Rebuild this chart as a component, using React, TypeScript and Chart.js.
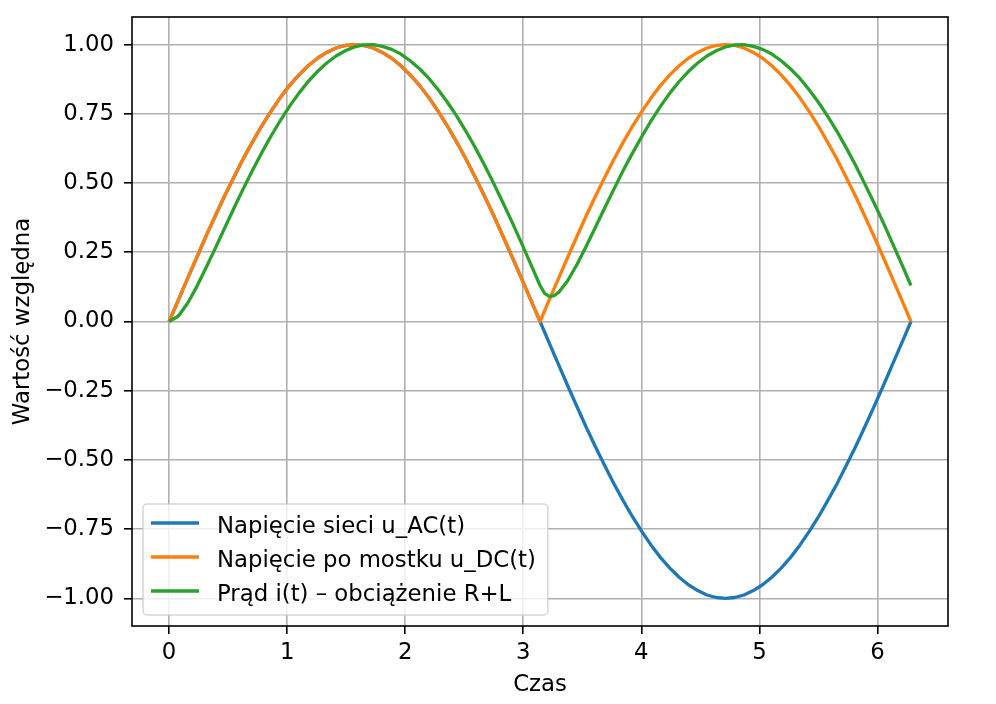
import { useEffect, useRef } from "react"
import { Chart, registerables, type ChartConfiguration, type Plugin } from "chart.js"

Chart.register(...registerables)

// time axis (s)
const czas = [
  0, 0.079, 0.157, 0.236, 0.314, 0.393, 0.471, 0.55, 0.628, 0.707, 0.785, 0.864, 0.942, 1.021, 1.1, 1.178, 1.257,
  1.335, 1.414, 1.492, 1.571, 1.649, 1.728, 1.806, 1.885, 1.963, 2.042, 2.121, 2.199, 2.278, 2.356, 2.435, 2.513,
  2.592, 2.67, 2.749, 2.827, 2.906, 2.985, 3.063, 3.142, 3.18, 3.22, 3.26, 3.299, 3.377, 3.456, 3.534, 3.613, 3.691,
  3.77, 3.848, 3.927, 4.006, 4.084, 4.163, 4.241, 4.32, 4.398, 4.477, 4.555, 4.634, 4.712, 4.791, 4.869, 4.948,
  5.027, 5.105, 5.184, 5.262, 5.341, 5.419, 5.498, 5.576, 5.655, 5.733, 5.812, 5.89, 5.969, 6.048, 6.126, 6.205,
  6.283,
]
const napiecieAC = [
  0, 0.078, 0.156, 0.233, 0.309, 0.383, 0.454, 0.522, 0.588, 0.649, 0.707, 0.76, 0.809, 0.853, 0.891, 0.924, 0.951,
  0.972, 0.988, 0.997, 1, 0.997, 0.988, 0.972, 0.951, 0.924, 0.891, 0.853, 0.809, 0.76, 0.707, 0.649, 0.588, 0.522,
  0.454, 0.383, 0.309, 0.233, 0.156, 0.078, 0, -0.038, -0.078, -0.118, -0.156, -0.233, -0.309, -0.383, -0.454,
  -0.522, -0.588, -0.649, -0.707, -0.76, -0.809, -0.853, -0.891, -0.924, -0.951, -0.972, -0.988, -0.997, -1, -0.997,
  -0.988, -0.972, -0.951, -0.924, -0.891, -0.853, -0.809, -0.76, -0.707, -0.649, -0.588, -0.522, -0.454, -0.383,
  -0.309, -0.233, -0.156, -0.078, 0,
]
const napiecieDC = [
  0, 0.078, 0.156, 0.233, 0.309, 0.383, 0.454, 0.522, 0.588, 0.649, 0.707, 0.76, 0.809, 0.853, 0.891, 0.924, 0.951,
  0.972, 0.988, 0.997, 1, 0.997, 0.988, 0.972, 0.951, 0.924, 0.891, 0.853, 0.809, 0.76, 0.707, 0.649, 0.588, 0.522,
  0.454, 0.383, 0.309, 0.233, 0.156, 0.078, 0, 0.038, 0.078, 0.118, 0.156, 0.233, 0.309, 0.383, 0.454, 0.522, 0.588,
  0.649, 0.707, 0.76, 0.809, 0.853, 0.891, 0.924, 0.951, 0.972, 0.988, 0.997, 1, 0.997, 0.988, 0.972, 0.951, 0.924,
  0.891, 0.853, 0.809, 0.76, 0.707, 0.649, 0.588, 0.522, 0.454, 0.383, 0.309, 0.233, 0.156, 0.078, 0,
]
const prad = [
  0, 0.02, 0.066, 0.127, 0.195, 0.266, 0.338, 0.41, 0.479, 0.546, 0.61, 0.67, 0.726, 0.778, 0.825, 0.867, 0.903,
  0.934, 0.959, 0.978, 0.992, 0.999, 1, 0.994, 0.983, 0.966, 0.942, 0.913, 0.879, 0.838, 0.793, 0.743, 0.688, 0.629,
  0.566, 0.499, 0.43, 0.358, 0.283, 0.207, 0.13, 0.102, 0.091, 0.093, 0.105, 0.148, 0.207, 0.273, 0.342, 0.412,
  0.48, 0.547, 0.61, 0.67, 0.726, 0.778, 0.825, 0.867, 0.903, 0.934, 0.959, 0.978, 0.992, 0.999, 1, 0.994, 0.983,
  0.966, 0.942, 0.913, 0.879, 0.838, 0.793, 0.743, 0.688, 0.629, 0.566, 0.499, 0.43, 0.358, 0.283, 0.207, 0.13,
]

const seriesLabels = ["Napięcie sieci u_AC(t)", "Napięcie po mostku u_DC(t)", "Prąd i(t) – obciążenie R+L"]
const seriesColors = ["#1f77b4", "#ff7f0e", "#2ca02c"]
const xTicks = [0, 1, 2, 3, 4, 5, 6]
const yTicks = [-1, -0.75, -0.5, -0.25, 0, 0.25, 0.5, 0.75, 1]

const FONT = { family: "'DejaVu Sans', sans-serif", size: 22.8 }

const toPoints = (ys: number[]) => ys.map((y, i) => ({ x: czas[i], y }))

// black frame on all four sides, above the lines
const framePlugin: Plugin = {
  id: "frame",
  afterDatasetsDraw(chart) {
    const { ctx, chartArea: a } = chart
    ctx.save()
    ctx.strokeStyle = "#000"
    ctx.lineWidth = 1.6
    ctx.strokeRect(a.left, a.top, a.right - a.left, a.bottom - a.top)
    ctx.restore()
  },
}

// matplotlib-like legend in the lower left corner of the plot
const innerLegend: Plugin = {
  id: "innerLegend",
  afterDraw(chart) {
    const { ctx, chartArea: a } = chart
    const sets = chart.data.datasets
    ctx.save()
    ctx.font = `${FONT.size}px ${FONT.family}`
    const textW = Math.max(...sets.map((d) => ctx.measureText(String(d.label)).width))
    const boxW = textW + 74 + 12
    const boxH = 111
    const boxX = a.left + 11
    const boxY = a.bottom - 11 - boxH
    ctx.beginPath()
    ctx.roundRect(boxX, boxY, boxW, boxH, 4)
    ctx.fillStyle = "rgba(255,255,255,0.8)"
    ctx.fill()
    ctx.strokeStyle = "rgba(204,204,204,0.8)"
    ctx.lineWidth = 1.5
    ctx.stroke()
    sets.forEach((d, i) => {
      const cy = boxY + 19 + i * 34
      ctx.beginPath()
      ctx.moveTo(boxX + 8, cy)
      ctx.lineTo(boxX + 56, cy)
      ctx.strokeStyle = d.borderColor as string
      ctx.lineWidth = 3.3
      ctx.stroke()
      ctx.fillStyle = "#000"
      ctx.textBaseline = "alphabetic"
      ctx.fillText(String(d.label), boxX + 74, cy + 10.4)
    })
    ctx.restore()
  },
}

const fmtY = (v: number) => v.toFixed(2).replace("-", "\u2212")

export default function App() {
  const canvasRef = useRef<HTMLCanvasElement>(null)
  const chartRef = useRef<Chart | null>(null)

  useEffect(() => {
    document.body.style.margin = "0"
    if (!canvasRef.current) return
    if (chartRef.current) chartRef.current.destroy()

    const series = [napiecieAC, napiecieDC, prad]

    const config: ChartConfiguration<"line"> = {
      type: "line",
      data: {
        datasets: series.map((ys, i) => ({
          label: seriesLabels[i],
          data: toPoints(ys),
          borderColor: seriesColors[i],
          backgroundColor: seriesColors[i],
          borderWidth: 3.3,
          pointRadius: 0,
          tension: 0,
          fill: false,
          borderJoinStyle: "round" as const,
          order: 2 - i,
        })),
      },
      options: {
        responsive: false,
        animation: false,
        layout: { padding: { top: 17, right: 48, left: 0, bottom: 0 } },
        plugins: {
          legend: { display: false },
          tooltip: { enabled: false },
        },
        scales: {
          x: {
            type: "linear",
            min: -0.314,
            max: 6.597,
            afterBuildTicks: (s) => {
              s.ticks = xTicks.map((v) => ({ value: v }))
            },
            afterFit: (s: any) => {
              s.height = 78
              s.paddingLeft = 0
              s.paddingRight = 0
            },
            ticks: { font: FONT, color: "#000", padding: 5.5, maxRotation: 0, callback: (v) => String(v) },
            grid: { color: "#b0b0b0", lineWidth: 1.6, tickColor: "#000", tickLength: 8, tickWidth: 1.6 },
            border: { display: false },
            title: { display: true, text: "Czas", font: FONT, color: "#000", padding: { top: 0, bottom: 5 } },
          },
          y: {
            type: "linear",
            min: -1.1,
            max: 1.1,
            afterBuildTicks: (s) => {
              s.ticks = yTicks.map((v) => ({ value: v }))
            },
            afterFit: (s: any) => {
              s.width = 132
              s.paddingTop = 0
              s.paddingBottom = 0
            },
            ticks: { font: FONT, color: "#000", padding: 10, callback: (v) => fmtY(Number(v)) },
            grid: { color: "#b0b0b0", lineWidth: 1.6, tickColor: "#000", tickLength: 8, tickWidth: 1.6 },
            border: { display: false },
            title: {
              display: true,
              text: "Wartość względna",
              font: FONT,
              color: "#000",
              padding: { top: 9.4, bottom: 0 },
            },
          },
        },
      },
      plugins: [framePlugin, innerLegend],
    }

    chartRef.current = new Chart(canvasRef.current, config)

    return () => {
      if (chartRef.current) {
        chartRef.current.destroy()
        chartRef.current = null
      }
    }
  }, [])

  return (
    <div style={{ width: 996, height: 704, background: "#fff" }}>
      <canvas ref={canvasRef} width={996} height={704} style={{ display: "block" }} />
    </div>
  )
}
